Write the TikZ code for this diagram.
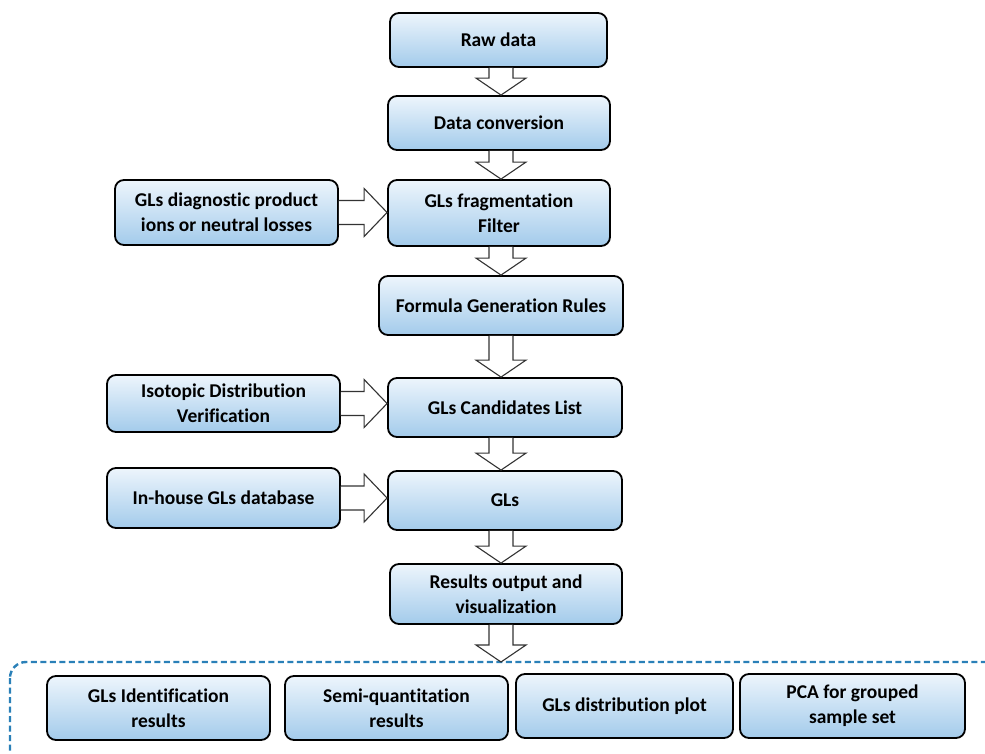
\documentclass[tikz,border=0pt]{standalone}
\usepackage{fontspec}
\setmainfont{Carlito}[Ligatures={NoCommon}]
\usetikzlibrary{calc}
\definecolor{topc}{HTML}{EDF5FC}
\definecolor{botc}{HTML}{A3CBEB}
\definecolor{dashc}{HTML}{2A80B8}
\tikzset{
  box/.style={draw=black, line width=1.8pt, rounded corners=9pt, top color=topc, bottom color=botc,
    align=center, font=\fontsize{19.5}{25}\selectfont\bfseries, inner sep=0pt},
  hollow/.style={draw=black!80, line width=1.1pt, fill=white, line join=miter},
}
\newcommand{\vblock}[2]{%
  \draw[hollow] let \p1=(#1.south), \p2=(#2) in
    (489pt,\y1) -- (489pt,\y2+17pt) -- (476pt,\y2+17pt) -- (501pt,\y2) --
    (526pt,\y2+17pt) -- (513pt,\y2+17pt) -- (513pt,\y1);}
\newcommand{\hblock}[2]{%
  \draw[hollow] let \p1=(#1.east), \p2=(#2.west) in
    (\x1,\y1+12pt) -- (\x2-23pt,\y1+12pt) -- (\x2-23pt,\y1+24pt) -- (\x2,\y1) --
    (\x2-23pt,\y1-24pt) -- (\x2-23pt,\y1-12pt) -- (\x1,\y1-12pt);}
\begin{document}
\begin{tikzpicture}[x=1pt,y=-1pt]
\useasboundingbox (0,0) rectangle (985,754);
\fill[white] (0,0) rectangle (985,754);

% dashed frame
\begin{scope}
  \clip (0,0) rectangle (985,754);
  \draw[dashc, line width=2.4pt, dash pattern=on 6pt off 3.5pt, rounded corners=16pt]
    (10,662) rectangle (1020,800);
\end{scope}
\coordinate (outtop) at (501,662);

% main column
\node[box, minimum width=217pt, minimum height=54pt] (raw) at (498.5,40) {Raw data};
\node[box, minimum width=222pt, minimum height=54pt] (conv) at (499,123) {Data conversion};
\node[box, minimum width=222pt, minimum height=66pt] (frag) at (499,213) {GLs fragmentation\\Filter};
\node[box, minimum width=244pt, minimum height=59pt] (formula) at (501,305.5) {Formula Generation Rules};
\node[box, minimum width=234pt, minimum height=59pt] (cand) at (505,407.5) {GLs Candidates List};
\node[box, minimum width=234pt, minimum height=59pt] (gls) at (505,500.5) {GLs};
\node[box, minimum width=232pt, minimum height=60pt] (res) at (506,594) {Results output and\\visualization};

% side inputs
\node[box, minimum width=223pt, minimum height=65pt] (diag) at (226.5,212.5) {GLs diagnostic product\\ions or neutral losses};
\node[box, minimum width=233pt, minimum height=57pt] (iso) at (223.5,403.5) {Isotopic Distribution\\Verification};
\node[box, minimum width=233pt, minimum height=60pt] (inhouse) at (223.5,498) {In-house GLs database};

% outputs
\node[box, minimum width=223pt, minimum height=64pt] (b1) at (158.5,708) {GLs Identification\\results};
\node[box, minimum width=223pt, minimum height=64pt] (b2) at (396.5,708) {Semi-quantitation\\results};
\node[box, minimum width=217pt, minimum height=64pt] (b3) at (624.5,706) {GLs distribution plot};
\node[box, minimum width=225pt, minimum height=64pt] (b4) at (852.5,706) {PCA for grouped\\sample set};

% arrows
\vblock{raw}{conv.north}
\vblock{conv}{frag.north}
\vblock{frag}{formula.north}
\vblock{formula}{cand.north}
\vblock{cand}{gls.north}
\vblock{gls}{res.north}
\vblock{res}{outtop}
\hblock{diag}{frag}
\hblock{iso}{cand}
\hblock{inhouse}{gls}
\end{tikzpicture}
\end{document}
